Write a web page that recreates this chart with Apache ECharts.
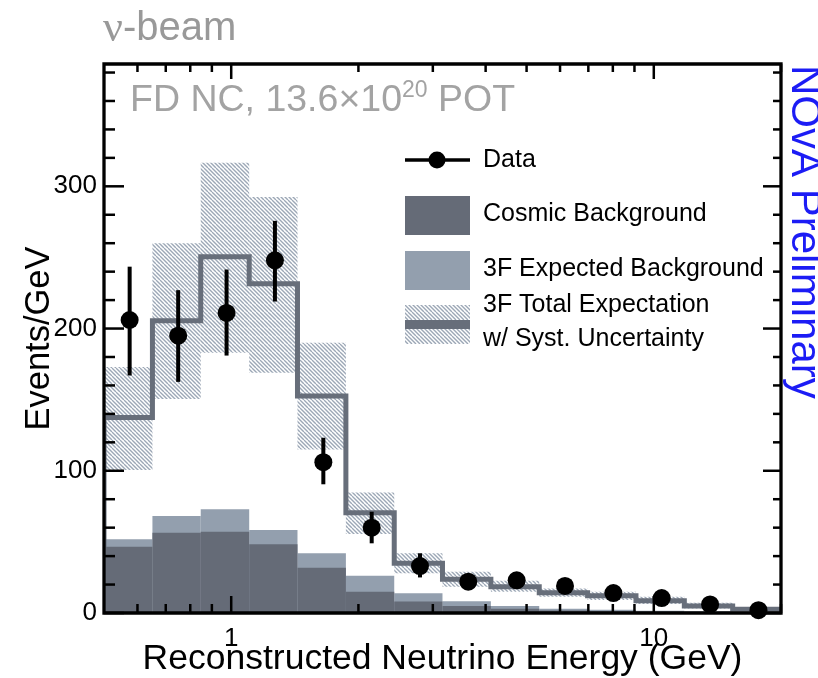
<!DOCTYPE html>
<html>
<head>
<meta charset="utf-8">
<script src="https://cdn.jsdelivr.net/npm/echarts@6/dist/echarts.min.js"></script>
<style>
  html, body { margin: 0; padding: 0; background: #ffffff; }
  #chart { width: 818px; height: 678px; }
</style>
</head>
<body>
<div id="chart"></div>
<script>
// Reconstructed energy binning (GeV), 14 log-spaced bins
const binEdges = [0.5, 0.651, 0.847, 1.103, 1.435, 1.868, 2.431, 3.162, 4.116, 5.357, 6.972, 9.075, 11.81, 15.37, 20];
const binCenters = [0.575, 0.749, 0.975, 1.269, 1.652, 2.15, 2.797, 3.639, 4.737, 6.165, 8.024, 10.44, 13.59, 17.69];

// Observed events per GeV with statistical error band edges
const dataValues  = [206, 195, 211, 248, 106, 60, 33, 22, 23, 19, 14, 10.5, 6, 2];
const dataErrLow  = [167, 162.5, 181, 219, 90.5, 49, 25, 17.3, 18.7, 15.6, 11.4, 8.5, 4.7, 1.3];
const dataErrHigh = [243.5, 227, 241.5, 275.7, 123.2, 71.2, 42, 26.7, 27.3, 22.4, 16.6, 12.5, 7.3, 2.7];

// 3-flavour prediction and its systematic band
const totalExpected = [137.5, 205.5, 250.5, 231.5, 152.5, 70.5, 35, 23.7, 18.5, 14.3, 12.2, 8.7, 4.9, 2.6];
const systLow  = [100.5, 150.5, 183, 169, 115, 55.5, 28, 18.5, 15, 11.5, 9.2, 6.3, 3.2, 1.6];
const systHigh = [173, 260, 316.5, 292.5, 190, 84.8, 42, 29, 22.7, 17.3, 15, 11.5, 7.2, 3.8];

// Background components
const expectedBkg = [51.8, 68.2, 72.9, 58.3, 42, 26.2, 13.8, 8.2, 5, 3, 2.2, 1.6, 1.2, 0.8];
const cosmicBkg   = [46.6, 56.4, 57.1, 48.3, 31.8, 15, 8, 5, 3, 1.7, 1.2, 0.8, 0.6, 0.4];

// Axis ticks
const xMajorTicks = [1, 10];
const xMinorTicks = [0.6, 0.7, 0.8, 0.9, 2, 3, 4, 5, 6, 7, 8, 9, 20];
const yMajorTicks = [0, 100, 200, 300];
const yMinorTicks = [20, 40, 60, 80, 120, 140, 160, 180, 220, 240, 260, 280, 320, 340, 360, 380];

const X_MIN = 0.5, X_MAX = 20, Y_MIN = 0, Y_MAX = 386;

const COSMIC = '#656b77';
const EXPECTED = '#939fae';
const LINE = '#676e7a';
const HATCH = '#9ca7b6';
const FONT = '"Liberation Sans", Arial, Helvetica, sans-serif';

// Diagonal hatch used for the systematic band
function makeHatch() {
  const c = document.createElement('canvas');
  c.width = 8; c.height = 8;
  const g = c.getContext('2d');
  g.fillStyle = '#ffffff';
  g.fillRect(0, 0, 8, 8);
  g.strokeStyle = HATCH;
  g.lineWidth = 1.35;
  for (let k = -8; k <= 8; k += 4) {
    g.beginPath();
    g.moveTo(k, 0);
    g.lineTo(k + 8, 8);
    g.stroke();
  }
  return c;
}
const hatchPattern = { image: makeHatch(), repeat: 'repeat' };

function binItems(lo, hi) {
  return binEdges.slice(0, -1).map((e, i) => [e, binEdges[i + 1], lo ? lo[i] : 0, hi[i]]);
}

function binRenderer(fill) {
  return function (params, api) {
    const p0 = api.coord([api.value(0), api.value(2)]);
    const p1 = api.coord([api.value(1), api.value(3)]);
    return {
      type: 'rect',
      shape: { x: p0[0], y: p1[1], width: p1[0] - p0[0], height: p0[1] - p1[1] },
      style: { fill: fill }
    };
  };
}

const chart = echarts.init(document.getElementById('chart'), null, { renderer: 'canvas' });

const option = {
  backgroundColor: '#ffffff',
  animation: false,
  grid: { left: 104, right: 37, top: 64, bottom: 65, show: false, containLabel: false, outerBoundsMode: 'none' },
  xAxis: {
    type: 'log',
    logBase: 10,
    min: X_MIN,
    max: X_MAX,
    name: 'Reconstructed Neutrino Energy (GeV)',
    nameLocation: 'middle',
    nameGap: 28,
    nameMoveOverlap: false,
    nameTextStyle: { fontFamily: FONT, fontSize: 35.5, color: '#000', verticalAlign: 'top' },
    axisLine: { show: false },
    axisTick: { show: false },
    splitLine: { show: false },
    minorTick: { show: false },
    axisLabel: {
      margin: 13,
      fontFamily: FONT,
      fontSize: 26,
      color: '#000',
      showMinLabel: true,
      showMaxLabel: true,
      formatter: function (v) {
        for (const t of xMajorTicks) { if (Math.abs(v - t) < 1e-6 * t) return String(t); }
        return '';
      }
    }
  },
  yAxis: {
    type: 'value',
    min: Y_MIN,
    max: Y_MAX,
    interval: 100,
    name: 'Events/GeV',
    nameLocation: 'middle',
    nameGap: 47,
    nameMoveOverlap: false,
    nameTextStyle: { fontFamily: FONT, fontSize: 34.5, color: '#000' },
    axisLine: { show: false },
    axisTick: { show: false },
    splitLine: { show: false },
    axisLabel: {
      margin: 7,
      fontFamily: FONT,
      fontSize: 26,
      color: '#000',
      formatter: function (v) { return yMajorTicks.indexOf(v) >= 0 ? String(v) : ''; }
    }
  },
  series: [
    {
      name: '3F Total Expectation band',
      type: 'custom',
      z: 1,
      clip: true,
      data: binItems(systLow, systHigh),
      encode: { x: [0, 1], y: [2, 3] },
      renderItem: binRenderer(hatchPattern)
    },
    {
      name: '3F Expected Background',
      type: 'custom',
      z: 2,
      clip: true,
      data: binItems(null, expectedBkg),
      encode: { x: [0, 1], y: [2, 3] },
      renderItem: binRenderer(EXPECTED)
    },
    {
      name: 'Cosmic Background',
      type: 'custom',
      z: 3,
      clip: true,
      data: binItems(null, cosmicBkg),
      encode: { x: [0, 1], y: [2, 3] },
      renderItem: binRenderer(COSMIC)
    },
    {
      name: '3F Total Expectation',
      type: 'custom',
      z: 4,
      clip: true,
      data: [[X_MIN, 0]],
      encode: { x: 0, y: 1 },
      renderItem: function (params, api) {
        const pts = [api.coord([binEdges[0], 0])];
        totalExpected.forEach(function (v, i) {
          pts.push(api.coord([binEdges[i], v]));
          pts.push(api.coord([binEdges[i + 1], v]));
        });
        return {
          type: 'polyline',
          shape: { points: pts },
          style: { stroke: LINE, lineWidth: 5, fill: 'none', lineJoin: 'miter' }
        };
      }
    },
    {
      name: 'Data errors',
      type: 'custom',
      z: 5,
      clip: false,
      data: binCenters.map((c, i) => [c, dataErrLow[i], dataErrHigh[i]]),
      encode: { x: 0, y: [1, 2] },
      renderItem: function (params, api) {
        const a = api.coord([api.value(0), api.value(1)]);
        const b = api.coord([api.value(0), api.value(2)]);
        return {
          type: 'line',
          shape: { x1: a[0], y1: a[1], x2: b[0], y2: b[1] },
          style: { stroke: '#000', lineWidth: 4 }
        };
      }
    },
    {
      name: 'Data',
      type: 'scatter',
      z: 6,
      clip: false,
      symbol: 'circle',
      symbolSize: 18,
      itemStyle: { color: '#000', opacity: 1 },
      data: binCenters.map((c, i) => [c, dataValues[i]])
    },
    {
      name: 'frame',
      type: 'custom',
      z: 10,
      clip: false,
      silent: true,
      data: [[X_MIN, Y_MIN]],
      encode: { x: 0, y: 1 },
      renderItem: function (params, api) {
        const bl = api.coord([X_MIN, Y_MIN]);
        const tr = api.coord([X_MAX, Y_MAX]);
        const kids = [];
        const tick = (x1, y1, x2, y2) => kids.push({
          type: 'line', shape: { x1, y1, x2, y2 }, style: { stroke: '#000', lineWidth: 2.5 }
        });
        xMajorTicks.forEach(t => { const x = api.coord([t, 0])[0]; tick(x, bl[1], x, bl[1] - 17); tick(x, tr[1], x, tr[1] + 15); });
        xMinorTicks.forEach(t => { const x = api.coord([t, 0])[0]; tick(x, bl[1], x, bl[1] - 9); tick(x, tr[1], x, tr[1] + 8); });
        yMajorTicks.forEach(t => { const y = api.coord([X_MIN, t])[1]; tick(bl[0], y, bl[0] + 20, y); tick(tr[0], y, tr[0] - 18, y); });
        yMinorTicks.forEach(t => { const y = api.coord([X_MIN, t])[1]; tick(bl[0], y, bl[0] + 11, y); tick(tr[0], y, tr[0] - 8, y); });
        kids.push({
          type: 'rect',
          shape: { x: bl[0], y: tr[1], width: tr[0] - bl[0], height: bl[1] - tr[1] },
          style: { fill: 'none', stroke: '#000', lineWidth: 3.3 }
        });
        return { type: 'group', children: kids };
      }
    }
  ],
  graphic: [
    {
      type: 'text', x: 103, y: 29, z: 20,
      style: {
        text: '{g|ν}{a|-beam}',
        verticalAlign: 'middle',
        rich: {
          g: { fontFamily: '"Liberation Serif", "DejaVu Serif", serif', fontSize: 44, fill: '#999999' },
          a: { fontFamily: FONT, fontSize: 40, fill: '#999999' }
        }
      }
    },
    {
      type: 'text', x: 130, y: 101, z: 20,
      style: {
        text: '{a|FD NC, 13.6×10}{s|20}{a| POT}',
        verticalAlign: 'middle',
        rich: {
          a: { fontFamily: FONT, fontSize: 37.5, fill: '#a3a3a3' },
          s: { fontFamily: FONT, fontSize: 23, fill: '#a3a3a3', padding: [0, 0, 21, 0] }
        }
      }
    },
    {
      type: 'text', x: 783, y: 65, rotation: -Math.PI / 2, z: 20,
      style: { text: 'NOvA Preliminary', fontFamily: FONT, fontSize: 42, fill: '#1c1cf5', align: 'left', verticalAlign: 'bottom' }
    },
    // legend
    { type: 'line', z: 20, shape: { x1: 405, y1: 160, x2: 470, y2: 160 }, style: { stroke: '#000', lineWidth: 3.5 } },
    { type: 'circle', z: 21, shape: { cx: 437, cy: 160, r: 8.5 }, style: { fill: '#000' } },
    { type: 'text', z: 20, x: 483, y: 160, style: { text: 'Data', fontFamily: FONT, fontSize: 25, fill: '#000', verticalAlign: 'middle' } },
    { type: 'rect', z: 20, shape: { x: 405, y: 196, width: 65, height: 39 }, style: { fill: COSMIC } },
    { type: 'text', z: 20, x: 483, y: 214, style: { text: 'Cosmic Background', fontFamily: FONT, fontSize: 25, fill: '#000', verticalAlign: 'middle' } },
    { type: 'rect', z: 20, shape: { x: 405, y: 251, width: 65, height: 39 }, style: { fill: EXPECTED } },
    { type: 'text', z: 20, x: 483, y: 269, style: { text: '3F Expected Background', fontFamily: FONT, fontSize: 25, fill: '#000', verticalAlign: 'middle' } },
    { type: 'rect', z: 20, shape: { x: 405, y: 305, width: 65, height: 39 }, style: { fill: hatchPattern } },
    { type: 'rect', z: 21, shape: { x: 405, y: 320, width: 65, height: 9 }, style: { fill: LINE } },
    { type: 'text', z: 20, x: 483, y: 305, style: { text: '3F Total Expectation', fontFamily: FONT, fontSize: 25, fill: '#000', verticalAlign: 'middle' } },
    { type: 'text', z: 20, x: 483, y: 339, style: { text: 'w/ Syst. Uncertainty', fontFamily: FONT, fontSize: 25, fill: '#000', verticalAlign: 'middle' } }
  ]
};

chart.setOption(option);
</script>
</body>
</html>
